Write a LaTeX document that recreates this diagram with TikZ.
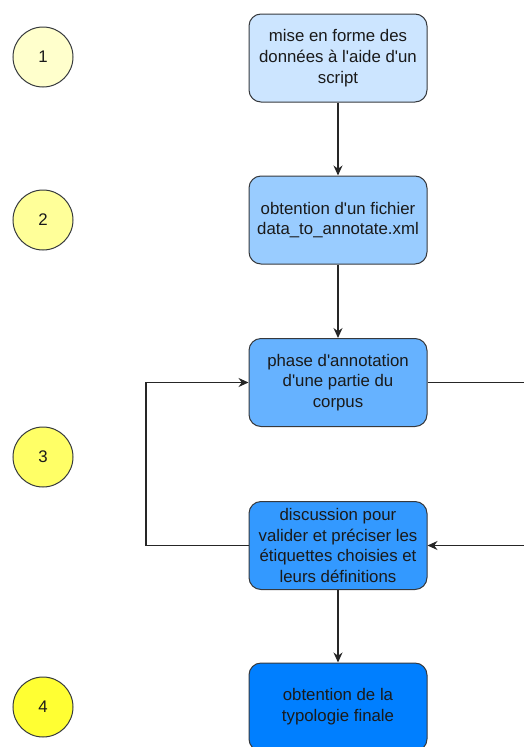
\documentclass[tikz,border=0pt]{standalone}
\usepackage{fontspec}
\setmainfont{Liberation Sans}
\usetikzlibrary{arrows.meta}
\definecolor{c1}{HTML}{CCE5FF}
\definecolor{c2}{HTML}{99CCFF}
\definecolor{c3}{HTML}{66B2FF}
\definecolor{c4}{HTML}{3399FF}
\definecolor{c5}{HTML}{007FFF}
\definecolor{y1}{HTML}{FFFFCC}
\definecolor{y2}{HTML}{FFFF99}
\definecolor{y3}{HTML}{FFFF66}
\definecolor{y4}{HTML}{FFFF33}
\definecolor{bord}{HTML}{36393D}
\definecolor{txt}{HTML}{1A1A1A}
\newcommand{\q}{\textquotesingle}
\tikzset{
  stepbox/.style={draw=bord, line width=1pt, rounded corners=12pt, minimum width=178pt, minimum height=88pt, inner sep=2pt, align=center, font=\fontsize{16.8}{20.8}\selectfont, text=txt},
  num/.style={circle, draw=bord, line width=1pt, minimum size=60pt, inner sep=0pt, font=\fontsize{16.8}{20}\selectfont, text=txt},
  conn/.style={line width=1.3pt, draw=black!85, -{Stealth[length=10pt,width=9pt]}},
}
\begin{document}
\begin{tikzpicture}[x=1pt,y=-1pt]
\useasboundingbox (0,0) rectangle (524,747);
\node[num, fill=y1] (n1) at (43,57) {1};
\node[num, fill=y2] (n2) at (43,220) {2};
\node[num, fill=y3] (n3) at (43,457) {3};
\node[num, fill=y4] (n4) at (43,707) {4};
\node[stepbox, fill=c1] (b1) at (338,58) {mise en forme des\\données à l\q aide d\q un\\script};
\node[stepbox, fill=c2] (b2) at (338,220) {obtention d\q un fichier\\data\_to\_annotate.xml};
\node[stepbox, fill=c3] (b3) at (338,382.5) {phase d\q annotation\\d\q une partie du\\corpus};
\node[stepbox, fill=c4] (b4) at (338,545.5) {discussion pour\\valider et préciser les\\étiquettes choisies et\\leurs définitions};
\node[stepbox, fill=c5] (b5) at (338,707) {obtention de la\\typologie finale};
\coordinate (rl) at (535,0);
\coordinate (ll) at (146,0);
\draw[conn] (b1) -- (b2);
\draw[conn] (b2) -- (b3);
\draw[conn] (b4) -- (b5);
\draw[conn] (b3.east) -- (b3.east -| rl) -- (b4.east -| rl) -- (b4.east);
\draw[conn] (b4.west) -- (b4.west -| ll) -- (b3.west -| ll) -- (b3.west);
\end{tikzpicture}
\end{document}
